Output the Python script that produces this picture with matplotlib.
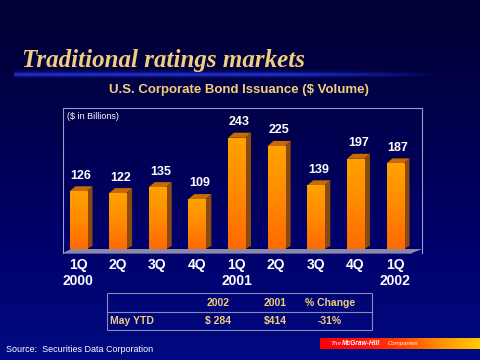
import numpy as np
import matplotlib
matplotlib.use("Agg")
import matplotlib.pyplot as plt
from matplotlib.patches import Polygon, Rectangle
from matplotlib.colors import LinearSegmentedColormap

quarters = ["1Q\n2000", "2Q", "3Q", "4Q", "1Q\n2001", "2Q", "3Q", "4Q", "1Q\n2002"]
values = [126, 122, 135, 109, 243, 225, 139, 197, 187]
table_header = ["", "2002", "2001", "% Change"]
table_row = ["May YTD", "$ 284", "$414", "-31%"]

GOLD = "#F2CE7C"
fig = plt.figure(figsize=(4.8, 3.6), dpi=100)

# background gradient
bg = fig.add_axes([0, 0, 1, 1])
bg.set_axis_off()
bgcmap = LinearSegmentedColormap.from_list("bg", ["#000034", "#00004c", "#00006c", "#000a80"])
grad = np.linspace(0, 1, 256).reshape(-1, 1)
bg.imshow(grad, aspect="auto", cmap=bgcmap, extent=[0, 1, 0, 1], origin="upper")
bg.set_xlim(0, 1); bg.set_ylim(0, 1)

# glow line under the title
for lw, a in [(6, 0.15), (3.5, 0.35), (1.8, 0.8)]:
    xs = np.linspace(0.03, 0.92, 200)
    for i in range(len(xs) - 1):
        fade = 1.0 if xs[i] < 0.6 else max(0, 1 - (xs[i] - 0.6) / 0.32)
        bg.plot(xs[i:i+2], [1 - 74/360] * 2, color="#2233dd", lw=lw, alpha=a * fade,
                solid_capstyle="butt")

fig.text(22/480, 1 - 60/360, "Traditional ratings markets", family="Liberation Serif",
         weight="bold", style="italic", fontsize=18, color=GOLD, va="center", ha="left")
fig.text(239/480, 1 - 90/360, "U.S. Corporate Bond Issuance ($ Volume)", family="Liberation Sans",
         weight="bold", fontsize=9.5, color=GOLD, va="center", ha="center")

# chart axes
ax = fig.add_axes([63/480, 1 - 253/360, (422 - 63)/480, (253 - 108)/360])
ax.set_facecolor("none")
for s in ["left", "top", "right"]:
    ax.spines[s].set_color("#9a9ac8")
    ax.spines[s].set_linewidth(0.8)
ax.spines["bottom"].set_visible(False)
ax.tick_params(left=False, labelleft=False, bottom=False)
ax.set_xticks(range(len(quarters)))
ax.set_xticklabels(quarters, color="white", family="Liberation Sans", weight="bold", fontsize=10,
                   linespacing=1.2)
ax.tick_params(axis="x", pad=0)

x = np.arange(len(values))
w = 0.43
dx = 0.15  # depth in x units
dy = 11    # depth in y units

# floor
ax.add_patch(Polygon([(-0.38, -8.75), (8.68 - 0.25, -8.75), (8.68, 0), (-0.38 + 0.2, 0)],
                     closed=True, facecolor="#8a8aa8", edgecolor="none", zorder=1))
ax.add_patch(Polygon([(-0.38, -8.75), (8.68 - 0.25, -8.75), (8.68 - 0.25, -11), (-0.38, -11)],
                     closed=True, facecolor="#5a5a88", edgecolor="none", zorder=1, clip_on=False))

bars = ax.bar(x, values, width=w, color="#ff8800", zorder=3)
bcmap = LinearSegmentedColormap.from_list("bar", ["#ffa200", "#ff8a00", "#ff6a00"])
for b, v in zip(bars, values):
    x0 = b.get_x(); x1 = x0 + b.get_width(); h = b.get_height()
    im = ax.imshow(np.linspace(0, 1, 100).reshape(-1, 1), cmap=bcmap, aspect="auto",
                   extent=[x0, x1, 0, h], origin="upper", zorder=3.5)
    im.set_clip_path(b)
    # side face
    ax.add_patch(Polygon([(x1, 0), (x1 + dx, dy * 0.6), (x1 + dx, h + dy), (x1, h)],
                         closed=True, facecolor="#8a4a10", edgecolor="none", zorder=3.2))
    # top face
    ax.add_patch(Polygon([(x0, h), (x0 + dx, h + dy), (x1 + dx, h + dy), (x1, h)],
                         closed=True, facecolor="#c86a08", edgecolor="none", zorder=3.2))
    ax.text(b.get_x() + w/2 + dx/2, h + dy + 10, str(v), ha="center", va="bottom",
            color="white", family="Liberation Sans", weight="bold", fontsize=9)
ax.set_xlim(-0.38, 8.68)
ax.set_ylim(-8.75, 308)

ax.text(0.012, 0.97, "($ in Billions)", transform=ax.transAxes, color="white",
        family="Liberation Sans", fontsize=6.5, va="top", ha="left")

# table
tx0, tx1 = 107/480, 372/480
ty0, tmid, ty1 = 1 - 330/360, 1 - 312/360, 1 - 293/360
bg.add_patch(Rectangle((tx0, ty0), tx1 - tx0, ty1 - ty0, facecolor="none",
                       edgecolor="#8a8ab8", lw=0.8))
bg.plot([tx0, tx1], [tmid, tmid], color="#8a8ab8", lw=0.8)
cols = [None, 218/480, 275/480, 330/480]
for i, t in enumerate(table_header):
    if t:
        bg.text(cols[i], (ty1 + tmid)/2, t, ha="center", va="center", color=GOLD,
                family="Liberation Sans", weight="bold", fontsize=7.5)
for i, t in enumerate(table_row):
    if i == 0:
        bg.text(110/480, (tmid + ty0)/2, t, ha="left", va="center", color=GOLD,
                family="Liberation Sans", weight="bold", fontsize=7.5)
    else:
        bg.text(cols[i], (tmid + ty0)/2, t, ha="center", va="center", color=GOLD,
                family="Liberation Sans", weight="bold", fontsize=7.5)

fig.text(6/480, 1 - 350/360, "Source:  Securities Data Corporation", color="white",
         family="Liberation Sans", fontsize=6.5, va="center", ha="left")

# logo bar
lcmap = LinearSegmentedColormap.from_list("logo", ["#ff0000", "#ff1010", "#ff4000", "#ff9000", "#ffcc00"])
bg.imshow(np.linspace(0, 1, 256).reshape(1, -1), cmap=lcmap, aspect="auto",
          extent=[320/480, 1, 1 - 349/360, 1 - 338/360], zorder=2)
bg.text(330/480, 1 - 343.5/360, "The", color="white", fontsize=4.5, style="italic",
        family="Liberation Sans", va="center", ha="left", zorder=3)
bg.text(342/480, 1 - 343.5/360, "McGraw-Hill", color="white", fontsize=4.8, style="italic",
        weight="bold", family="Liberation Sans", va="center", ha="left", zorder=3)
bg.text(388/480, 1 - 343.5/360, "Companies", color="white", fontsize=4.3, style="italic",
        family="Liberation Sans", va="center", ha="left", zorder=3)
bg.set_xlim(0, 1); bg.set_ylim(0, 1)

fig.savefig("out.png", dpi=100)
